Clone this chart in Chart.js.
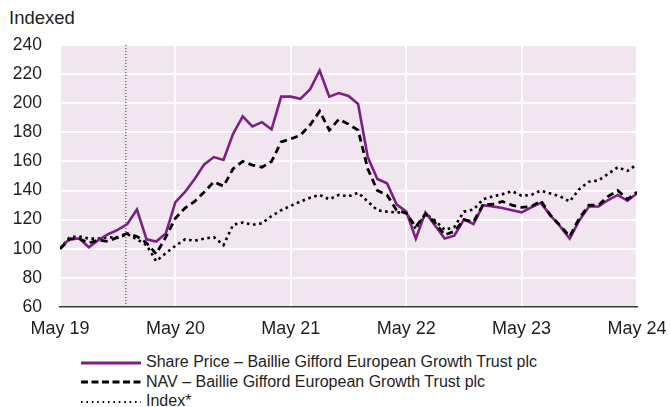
<!DOCTYPE html>
<html>
<head>
<meta charset="utf-8">
<script src="https://cdn.jsdelivr.net/npm/chart.js@4.4.1/dist/chart.umd.min.js"></script>
<style>
  body { margin: 0; width: 670px; height: 407px; background: #fff; overflow: hidden;
         font-family: "Liberation Sans", Arial, sans-serif; color: #1e1e1e; }
  #unit { position: absolute; left: 9px; top: 7px; font-size: 18.5px; line-height: 21px; }
  #wrap { position: absolute; left: 0; top: 0; width: 670px; height: 345px; }
  #legend { position: absolute; left: 81px; top: 352px; font-size: 16px; }
  #legend .row { height: 19.5px; line-height: 19.5px; white-space: nowrap; }
  #legend svg { vertical-align: middle; margin-right: 5px; }
</style>
</head>
<body>
<div id="unit">Indexed</div>
<div id="wrap"><canvas id="myChart"></canvas></div>
<div id="legend"></div>

<script>
// monthly values, May 2019 = 100
const sharePrice = [100, 107, 107, 101, 106, 110, 113, 117, 127, 106.5, 105, 110.5, 132,
  139, 148, 158, 163, 161, 179, 191, 184, 187, 182, 204.5, 204.5,
  203, 209.5, 222.5, 204.5, 207, 205, 199.5, 163, 148, 145, 130.5, 125.5,
  107, 125, 116, 107, 109, 120, 117, 130, 129, 128, 126.5, 125,
  128.5, 131.5, 123, 115.5, 107, 119.5, 129, 129, 133.5, 137, 133, 138];
const nav = [100, 106.5, 107, 104, 106, 105, 108, 110.5, 108.5, 104, 96.5, 108, 121,
  128, 132.5, 139, 146, 143, 155, 160, 157.5, 156, 160, 173.5, 175.5,
  178, 185, 194.5, 181.5, 189, 185.5, 181.5, 155, 140, 137, 126.5, 124.5,
  115, 124, 118, 109.5, 112, 120, 118.5, 130.5, 130.5, 132.5, 130, 128.5,
  129, 133, 123, 116, 108.5, 121, 130, 130, 136, 140, 134, 139];
const indexLine = [100, 108, 108.5, 107, 107, 108, 107.5, 110, 106.5, 102.5, 91.5, 97, 102,
  106.5, 105.5, 107, 108, 102.5, 116.5, 118, 116.5, 117.5, 122.5, 126.5, 129.5,
  132.5, 135, 137, 134, 137, 136, 138.5, 132.5, 126.5, 125.5, 125, 125,
  113.5, 124, 119.5, 113, 115, 125.5, 127, 134, 136, 137.5, 139.5, 136.5,
  137, 140, 138, 136, 132.5, 141, 146, 147, 151.5, 156, 153.5, 158];
const yearLabels = ['May 19', 'May 20', 'May 21', 'May 22', 'May 23', 'May 24'];
const seriesNames = [
  'Share Price – Baillie Gifford European Growth Trust plc',
  'NAV – Baillie Gifford European Growth Trust plc',
  'Index*'
];
// month (from May 19) where the vertical dotted marker sits
const markerMonth = 6.85;

const purple = '#7b2182';
const toPoints = (arr) => arr.map((v, i) => ({ x: i, y: v }));

// pink plot background
const plotBg = {
  id: 'plotBg',
  beforeDraw(chart) {
    const { ctx, chartArea: a } = chart;
    ctx.save();
    ctx.fillStyle = '#f1e6f0';
    ctx.fillRect(a.left, a.top, a.right - a.left, a.bottom - a.top);
    ctx.restore();
  }
};

new Chart(document.getElementById('myChart'), {
  type: 'line',
  data: {
    datasets: [
      { label: seriesNames[0], data: toPoints(sharePrice), borderColor: purple, borderWidth: 2.6, order: 1 },
      { label: seriesNames[1], data: toPoints(nav), borderColor: '#000', borderWidth: 2.8, borderDash: [7, 4.5], order: 0 },
      { label: seriesNames[2], data: toPoints(indexLine), borderColor: '#000', borderWidth: 2.6, borderDash: [2.6, 3.6], order: 2 },
      { label: 'marker', data: [{ x: markerMonth, y: 60 }, { x: markerMonth, y: 240 }],
        borderColor: '#222', borderWidth: 1, borderDash: [1, 2], order: 3 }
    ]
  },
  options: {
    responsive: true,
    maintainAspectRatio: false,
    animation: false,
    elements: { point: { radius: 0 }, line: { tension: 0, fill: false } },
    layout: { padding: { top: 45, right: 33, left: 0, bottom: 0 } },
    plugins: { legend: { display: false }, tooltip: { enabled: false } },
    scales: {
      x: {
        type: 'linear', min: 0, max: 60,
        afterFit: (s) => { s.height = 38; s.paddingLeft = 0; s.paddingRight = 0; },
        ticks: {
          stepSize: 12, padding: 11, color: '#1e1e1e', maxRotation: 0,
          font: { family: '"Liberation Sans", Arial, sans-serif', size: 18 },
          callback: (v) => yearLabels[v / 12]
        },
        grid: { color: '#fff', lineWidth: 2, drawTicks: false },
        border: { display: true, color: '#3a3a3a', width: 1.5 }
      },
      y: {
        min: 60, max: 240,
        afterFit: (s) => { s.width = 60; },
        ticks: {
          stepSize: 20, padding: 18, color: '#1e1e1e',
          font: { family: '"Liberation Sans", Arial, sans-serif', size: 17.5 }
        },
        grid: { color: (c) => c.tick.value === 60 ? 'rgba(0,0,0,0)' : '#fff', lineWidth: 2, drawTicks: false },
        border: { display: false }
      }
    }
  },
  plugins: [plotBg]
});

// legend underneath the chart
const legendStyles = [
  { stroke: purple, width: 3, dash: '' },
  { stroke: '#000', width: 3, dash: '7 3.5' },
  { stroke: '#000', width: 1.8, dash: '1.6 3.8' }
];
document.getElementById('legend').innerHTML = seriesNames.map((name, i) => {
  const st = legendStyles[i];
  return `<div class="row"><svg width="60" height="6"><line x1="0" y1="3" x2="60" y2="3" stroke="${st.stroke}" stroke-width="${st.width}" stroke-dasharray="${st.dash}"/></svg><span>${name}</span></div>`;
}).join('');
</script>
</body>
</html>
